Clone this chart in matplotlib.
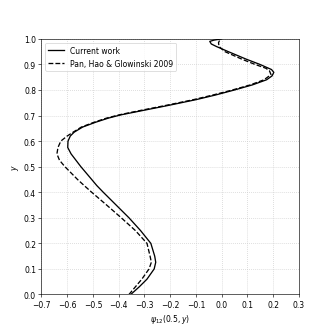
import matplotlib
matplotlib.use("Agg")
import matplotlib.pyplot as plt

# current work
y_cur = [0.0, 0.03, 0.06, 0.1, 0.126, 0.15, 0.2, 0.25, 0.3, 0.35, 0.4, 0.426, 0.45,
         0.5, 0.55, 0.575, 0.6, 0.62, 0.635, 0.655, 0.674, 0.69, 0.703, 0.72, 0.74,
         0.762, 0.78, 0.8, 0.82, 0.84, 0.855, 0.869, 0.88, 0.9, 0.92, 0.95, 0.97,
         0.98, 0.99, 0.995, 1.0]
psi_cur = [-0.353, -0.32, -0.29, -0.262, -0.256, -0.26, -0.275, -0.315, -0.36,
           -0.41, -0.46, -0.485, -0.505, -0.547, -0.585, -0.598, -0.597, -0.588,
           -0.573, -0.54, -0.489, -0.44, -0.39, -0.305, -0.205, -0.10, -0.025,
           0.05, 0.12, 0.175, 0.196, 0.203, 0.194, 0.149, 0.097, 0.026, -0.02,
           -0.04, -0.046, -0.03, 0.0]

# Pan, Hao & Glowinski 2009
y_ref = [0.0, 0.03, 0.06, 0.1, 0.126, 0.15, 0.2, 0.25, 0.3, 0.35, 0.4, 0.426, 0.45,
         0.5, 0.525, 0.55, 0.575, 0.6, 0.62, 0.635, 0.655, 0.674, 0.69, 0.703,
         0.72, 0.74, 0.762, 0.78, 0.8, 0.82, 0.84, 0.86, 0.875, 0.885, 0.9, 0.92,
         0.95, 0.97, 0.985, 1.0]
psi_ref = [-0.36, -0.335, -0.31, -0.282, -0.273, -0.278, -0.29, -0.335, -0.39,
           -0.447, -0.505, -0.534, -0.56, -0.609, -0.63, -0.64, -0.636, -0.625,
           -0.6, -0.577, -0.545, -0.495, -0.447, -0.397, -0.315, -0.215, -0.11,
           -0.035, 0.042, 0.112, 0.165, 0.192, 0.186, 0.172, 0.13, 0.08, 0.013,
           -0.01, -0.012, -0.005]

fig, ax = plt.subplots(figsize=(6.0, 6.0), dpi=55.33)
ax.plot(psi_cur, y_cur, 'k-', lw=1.7, label='Current work')
ax.plot(psi_ref, y_ref, 'k--', lw=1.7, label='Pan, Hao & Glowinski 2009')
ax.set_xlim(-0.7, 0.3)
ax.set_ylim(0, 1)
ax.set_xticks([-0.7, -0.6, -0.5, -0.4, -0.3, -0.2, -0.1, 0.0, 0.1, 0.2, 0.3])
ax.set_yticks([0.0, 0.1, 0.2, 0.3, 0.4, 0.5, 0.6, 0.7, 0.8, 0.9, 1.0])
ax.grid(True, color='0.8', linestyle=':', linewidth=1)
ax.set_xlabel(r'$\psi_{12}(0.5, y)$')
ax.set_ylabel(r'$y$')
ax.legend(loc='upper left')
fig.savefig('out.png', dpi=55.33)
